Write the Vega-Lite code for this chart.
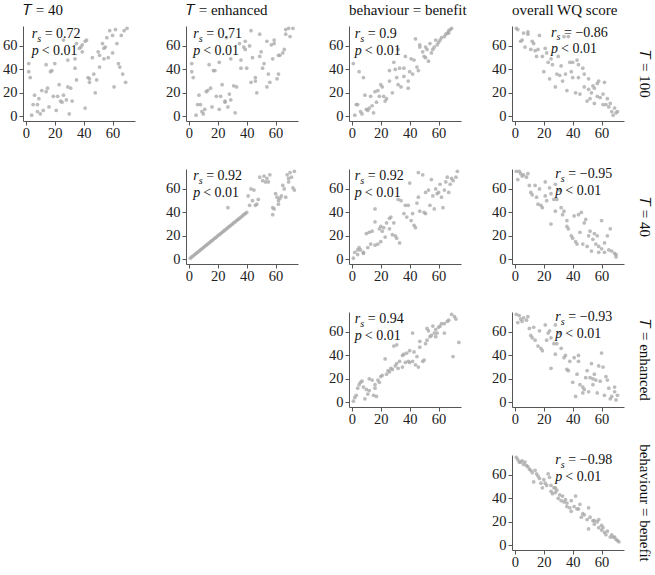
{
"$schema":"https://vega.github.io/schema/vega-lite/v6.json",
"padding":{"left":2,"top":2,"right":5,"bottom":5},
"background":"white",
"columns":4,
"bounds":"flush",
"spacing":{"row":48,"column":51},
"datasets":{
"p1":[{"x":2,"y":45},{"x":2,"y":38},{"x":3,"y":33},{"x":4,"y":1},{"x":5,"y":10},{"x":6,"y":18},{"x":8,"y":10},{"x":8,"y":4},{"x":9,"y":15},{"x":10,"y":2},{"x":11,"y":22},{"x":12,"y":5},{"x":14,"y":21},{"x":14,"y":44},{"x":15,"y":24},{"x":16,"y":8},{"x":17,"y":38},{"x":18,"y":39},{"x":19,"y":17},{"x":20,"y":45},{"x":21,"y":5},{"x":22,"y":17},{"x":23,"y":27},{"x":24,"y":13},{"x":25,"y":12},{"x":26,"y":65},{"x":26,"y":18},{"x":28,"y":14},{"x":29,"y":25},{"x":29,"y":48},{"x":30,"y":2},{"x":31,"y":24},{"x":32,"y":13},{"x":34,"y":49},{"x":34,"y":41},{"x":35,"y":31},{"x":35,"y":62},{"x":37,"y":58},{"x":38,"y":59},{"x":39,"y":55},{"x":39,"y":61},{"x":41,"y":64},{"x":41,"y":7},{"x":42,"y":65},{"x":43,"y":33},{"x":44,"y":32},{"x":44,"y":29},{"x":46,"y":50},{"x":47,"y":36},{"x":48,"y":20},{"x":49,"y":31},{"x":50,"y":55},{"x":51,"y":42},{"x":51,"y":52},{"x":53,"y":62},{"x":54,"y":58},{"x":54,"y":49},{"x":55,"y":59},{"x":56,"y":67},{"x":57,"y":50},{"x":58,"y":73},{"x":60,"y":54},{"x":60,"y":69},{"x":61,"y":25},{"x":62,"y":74},{"x":63,"y":62},{"x":64,"y":45},{"x":65,"y":42},{"x":66,"y":69},{"x":67,"y":36},{"x":68,"y":73},{"x":69,"y":29},{"x":70,"y":75}],
"p2":[{"x":2,"y":45},{"x":2,"y":38},{"x":3,"y":33},{"x":5,"y":1},{"x":6,"y":10},{"x":7,"y":18},{"x":8,"y":10},{"x":9,"y":4},{"x":10,"y":2},{"x":11,"y":6},{"x":12,"y":21},{"x":13,"y":22},{"x":14,"y":44},{"x":15,"y":24},{"x":16,"y":8},{"x":17,"y":39},{"x":18,"y":39},{"x":19,"y":17},{"x":21,"y":46},{"x":21,"y":6},{"x":22,"y":17},{"x":23,"y":27},{"x":25,"y":13},{"x":25,"y":12},{"x":26,"y":67},{"x":27,"y":8},{"x":28,"y":19},{"x":29,"y":49},{"x":29,"y":14},{"x":31,"y":26},{"x":32,"y":3},{"x":33,"y":25},{"x":35,"y":62},{"x":36,"y":48},{"x":36,"y":41},{"x":38,"y":59},{"x":39,"y":57},{"x":39,"y":64},{"x":40,"y":41},{"x":42,"y":60},{"x":43,"y":29},{"x":43,"y":73},{"x":44,"y":50},{"x":46,"y":33},{"x":46,"y":30},{"x":47,"y":20},{"x":49,"y":51},{"x":49,"y":70},{"x":50,"y":55},{"x":51,"y":41},{"x":52,"y":45},{"x":54,"y":64},{"x":54,"y":25},{"x":55,"y":36},{"x":56,"y":29},{"x":57,"y":61},{"x":58,"y":49},{"x":59,"y":65},{"x":59,"y":62},{"x":61,"y":32},{"x":62,"y":52},{"x":62,"y":36},{"x":63,"y":52},{"x":65,"y":54},{"x":66,"y":57},{"x":67,"y":70},{"x":67,"y":74},{"x":69,"y":75},{"x":70,"y":68},{"x":72,"y":75}],
"p3":[{"x":1,"y":45},{"x":2,"y":1},{"x":3,"y":10},{"x":4,"y":10},{"x":5,"y":38},{"x":6,"y":4},{"x":7,"y":2},{"x":8,"y":33},{"x":9,"y":18},{"x":10,"y":6},{"x":11,"y":5},{"x":12,"y":7},{"x":13,"y":17},{"x":14,"y":9},{"x":15,"y":3},{"x":16,"y":21},{"x":17,"y":12},{"x":18,"y":22},{"x":19,"y":17},{"x":20,"y":27},{"x":21,"y":25},{"x":22,"y":17},{"x":23,"y":13},{"x":24,"y":15},{"x":26,"y":39},{"x":26,"y":30},{"x":28,"y":20},{"x":29,"y":46},{"x":30,"y":40},{"x":31,"y":33},{"x":32,"y":57},{"x":32,"y":27},{"x":33,"y":41},{"x":34,"y":25},{"x":36,"y":34},{"x":36,"y":41},{"x":37,"y":51},{"x":39,"y":24},{"x":39,"y":30},{"x":40,"y":38},{"x":41,"y":49},{"x":42,"y":36},{"x":43,"y":48},{"x":44,"y":66},{"x":45,"y":42},{"x":46,"y":39},{"x":47,"y":61},{"x":47,"y":59},{"x":49,"y":55},{"x":50,"y":51},{"x":51,"y":50},{"x":51,"y":59},{"x":52,"y":57},{"x":53,"y":47},{"x":54,"y":62},{"x":55,"y":54},{"x":56,"y":57},{"x":57,"y":59},{"x":58,"y":65},{"x":59,"y":61},{"x":60,"y":63},{"x":61,"y":65},{"x":62,"y":67},{"x":64,"y":68},{"x":65,"y":70},{"x":66,"y":71},{"x":67,"y":73},{"x":68,"y":74},{"x":69,"y":75},{"x":67,"y":71}],
"p4":[{"x":1,"y":75},{"x":2,"y":74},{"x":4,"y":64},{"x":5,"y":65},{"x":6,"y":71},{"x":7,"y":59},{"x":9,"y":72},{"x":9,"y":70},{"x":11,"y":57},{"x":12,"y":64},{"x":13,"y":62},{"x":14,"y":56},{"x":15,"y":51},{"x":16,"y":57},{"x":17,"y":69},{"x":19,"y":51},{"x":20,"y":38},{"x":21,"y":58},{"x":22,"y":54},{"x":23,"y":46},{"x":24,"y":32},{"x":25,"y":49},{"x":26,"y":44},{"x":28,"y":25},{"x":29,"y":36},{"x":30,"y":51},{"x":31,"y":35},{"x":32,"y":43},{"x":33,"y":30},{"x":34,"y":68},{"x":35,"y":36},{"x":36,"y":22},{"x":37,"y":68},{"x":38,"y":46},{"x":39,"y":38},{"x":40,"y":33},{"x":40,"y":46},{"x":42,"y":20},{"x":43,"y":48},{"x":44,"y":44},{"x":44,"y":33},{"x":45,"y":19},{"x":47,"y":41},{"x":48,"y":36},{"x":48,"y":25},{"x":50,"y":13},{"x":51,"y":23},{"x":51,"y":32},{"x":52,"y":15},{"x":53,"y":20},{"x":54,"y":26},{"x":55,"y":11},{"x":55,"y":24},{"x":57,"y":28},{"x":57,"y":17},{"x":58,"y":30},{"x":59,"y":16},{"x":61,"y":10},{"x":61,"y":19},{"x":62,"y":29},{"x":63,"y":10},{"x":64,"y":15},{"x":65,"y":8},{"x":66,"y":11},{"x":67,"y":4},{"x":68,"y":1},{"x":69,"y":7},{"x":70,"y":3},{"x":71,"y":4}],
"p5":[{"x":1,"y":1},{"x":2,"y":2},{"x":3,"y":3},{"x":4,"y":4},{"x":5,"y":5},{"x":6,"y":6},{"x":7,"y":7},{"x":8,"y":8},{"x":9,"y":9},{"x":10,"y":10},{"x":11,"y":11},{"x":12,"y":12},{"x":13,"y":13},{"x":14,"y":14},{"x":15,"y":15},{"x":16,"y":16},{"x":17,"y":17},{"x":18,"y":18},{"x":19,"y":19},{"x":20,"y":20},{"x":21,"y":21},{"x":22,"y":22},{"x":23,"y":23},{"x":24,"y":24},{"x":25,"y":25},{"x":26,"y":26},{"x":27,"y":27},{"x":28,"y":28},{"x":29,"y":29},{"x":30,"y":30},{"x":31,"y":31},{"x":32,"y":32},{"x":33,"y":33},{"x":34,"y":34},{"x":35,"y":35},{"x":36,"y":36},{"x":37,"y":37},{"x":38,"y":38},{"x":39,"y":39},{"x":40,"y":40},{"x":27,"y":44},{"x":41,"y":54},{"x":42,"y":46},{"x":43,"y":60},{"x":44,"y":50},{"x":45,"y":59},{"x":46,"y":46},{"x":47,"y":47},{"x":48,"y":51},{"x":49,"y":70},{"x":51,"y":67},{"x":52,"y":71},{"x":53,"y":66},{"x":54,"y":69},{"x":55,"y":66},{"x":56,"y":72},{"x":58,"y":44},{"x":58,"y":38},{"x":59,"y":43},{"x":60,"y":56},{"x":61,"y":53},{"x":62,"y":50},{"x":62,"y":47},{"x":63,"y":52},{"x":64,"y":54},{"x":65,"y":63},{"x":66,"y":60},{"x":67,"y":53},{"x":68,"y":72},{"x":69,"y":69},{"x":69,"y":66},{"x":70,"y":74},{"x":71,"y":70},{"x":72,"y":61},{"x":73,"y":75},{"x":73,"y":59}],
"p6":[{"x":1,"y":1},{"x":2,"y":6},{"x":4,"y":4},{"x":4,"y":8},{"x":5,"y":10},{"x":6,"y":8},{"x":8,"y":5},{"x":8,"y":6},{"x":10,"y":22},{"x":11,"y":10},{"x":12,"y":23},{"x":13,"y":13},{"x":14,"y":24},{"x":16,"y":32},{"x":16,"y":43},{"x":16,"y":12},{"x":18,"y":13},{"x":19,"y":26},{"x":20,"y":15},{"x":20,"y":28},{"x":21,"y":24},{"x":22,"y":27},{"x":23,"y":19},{"x":24,"y":31},{"x":26,"y":35},{"x":26,"y":26},{"x":27,"y":36},{"x":28,"y":21},{"x":29,"y":31},{"x":30,"y":20},{"x":31,"y":18},{"x":32,"y":51},{"x":33,"y":14},{"x":34,"y":50},{"x":36,"y":39},{"x":37,"y":46},{"x":38,"y":36},{"x":39,"y":46},{"x":40,"y":65},{"x":41,"y":33},{"x":42,"y":39},{"x":43,"y":29},{"x":44,"y":27},{"x":45,"y":48},{"x":46,"y":74},{"x":46,"y":53},{"x":47,"y":41},{"x":49,"y":72},{"x":50,"y":40},{"x":51,"y":57},{"x":51,"y":39},{"x":53,"y":59},{"x":54,"y":46},{"x":55,"y":68},{"x":56,"y":54},{"x":57,"y":43},{"x":58,"y":60},{"x":59,"y":56},{"x":60,"y":57},{"x":61,"y":64},{"x":62,"y":53},{"x":63,"y":44},{"x":64,"y":59},{"x":65,"y":66},{"x":66,"y":70},{"x":67,"y":57},{"x":68,"y":64},{"x":69,"y":69},{"x":70,"y":67},{"x":72,"y":70},{"x":73,"y":75}],
"p7":[{"x":1,"y":75},{"x":2,"y":68},{"x":3,"y":75},{"x":4,"y":73},{"x":5,"y":71},{"x":6,"y":72},{"x":8,"y":70},{"x":9,"y":73},{"x":10,"y":63},{"x":11,"y":57},{"x":12,"y":55},{"x":14,"y":63},{"x":15,"y":53},{"x":16,"y":47},{"x":17,"y":60},{"x":18,"y":46},{"x":19,"y":44},{"x":21,"y":66},{"x":21,"y":54},{"x":22,"y":50},{"x":24,"y":61},{"x":25,"y":30},{"x":25,"y":56},{"x":27,"y":51},{"x":28,"y":41},{"x":28,"y":64},{"x":29,"y":51},{"x":31,"y":59},{"x":32,"y":44},{"x":33,"y":38},{"x":34,"y":41},{"x":36,"y":33},{"x":36,"y":28},{"x":37,"y":26},{"x":39,"y":20},{"x":40,"y":18},{"x":41,"y":37},{"x":42,"y":15},{"x":43,"y":13},{"x":44,"y":38},{"x":45,"y":23},{"x":46,"y":40},{"x":47,"y":13},{"x":48,"y":31},{"x":49,"y":34},{"x":50,"y":11},{"x":51,"y":20},{"x":52,"y":24},{"x":53,"y":7},{"x":54,"y":17},{"x":55,"y":22},{"x":56,"y":13},{"x":57,"y":20},{"x":58,"y":6},{"x":58,"y":11},{"x":60,"y":33},{"x":60,"y":9},{"x":62,"y":6},{"x":62,"y":14},{"x":64,"y":20},{"x":65,"y":8},{"x":66,"y":26},{"x":67,"y":7},{"x":69,"y":5},{"x":70,"y":4},{"x":70,"y":2}],
"p8":[{"x":1,"y":1},{"x":2,"y":4},{"x":3,"y":6},{"x":4,"y":12},{"x":5,"y":15},{"x":6,"y":17},{"x":7,"y":18},{"x":8,"y":13},{"x":9,"y":3},{"x":10,"y":11},{"x":11,"y":7},{"x":12,"y":20},{"x":12,"y":10},{"x":14,"y":19},{"x":15,"y":6},{"x":16,"y":15},{"x":16,"y":12},{"x":17,"y":5},{"x":18,"y":19},{"x":19,"y":17},{"x":20,"y":22},{"x":21,"y":23},{"x":23,"y":37},{"x":24,"y":24},{"x":25,"y":27},{"x":26,"y":26},{"x":27,"y":29},{"x":28,"y":28},{"x":29,"y":48},{"x":30,"y":31},{"x":31,"y":49},{"x":31,"y":33},{"x":32,"y":29},{"x":33,"y":35},{"x":35,"y":30},{"x":35,"y":40},{"x":36,"y":41},{"x":37,"y":34},{"x":38,"y":42},{"x":39,"y":35},{"x":40,"y":44},{"x":40,"y":34},{"x":42,"y":35},{"x":42,"y":59},{"x":43,"y":43},{"x":44,"y":32},{"x":45,"y":39},{"x":46,"y":30},{"x":47,"y":47},{"x":47,"y":52},{"x":49,"y":35},{"x":50,"y":36},{"x":51,"y":50},{"x":52,"y":53},{"x":52,"y":63},{"x":53,"y":61},{"x":54,"y":56},{"x":55,"y":57},{"x":56,"y":65},{"x":57,"y":59},{"x":58,"y":56},{"x":58,"y":62},{"x":59,"y":59},{"x":60,"y":64},{"x":61,"y":65},{"x":62,"y":67},{"x":64,"y":67},{"x":64,"y":59},{"x":66,"y":69},{"x":67,"y":70},{"x":69,"y":75},{"x":70,"y":39},{"x":71,"y":73},{"x":72,"y":71},{"x":74,"y":51}],
"p9":[{"x":1,"y":75},{"x":2,"y":68},{"x":3,"y":74},{"x":4,"y":71},{"x":5,"y":69},{"x":6,"y":72},{"x":8,"y":70},{"x":9,"y":73},{"x":10,"y":63},{"x":11,"y":57},{"x":12,"y":55},{"x":13,"y":64},{"x":14,"y":53},{"x":16,"y":48},{"x":17,"y":61},{"x":18,"y":46},{"x":19,"y":44},{"x":21,"y":66},{"x":22,"y":53},{"x":23,"y":59},{"x":24,"y":61},{"x":25,"y":29},{"x":25,"y":55},{"x":27,"y":50},{"x":28,"y":41},{"x":28,"y":66},{"x":29,"y":50},{"x":31,"y":59},{"x":32,"y":46},{"x":34,"y":38},{"x":35,"y":40},{"x":36,"y":28},{"x":37,"y":27},{"x":38,"y":35},{"x":40,"y":17},{"x":41,"y":38},{"x":42,"y":5},{"x":43,"y":24},{"x":44,"y":35},{"x":44,"y":40},{"x":45,"y":15},{"x":47,"y":8},{"x":47,"y":13},{"x":48,"y":11},{"x":49,"y":21},{"x":50,"y":27},{"x":51,"y":9},{"x":52,"y":21},{"x":53,"y":33},{"x":54,"y":15},{"x":54,"y":20},{"x":55,"y":24},{"x":56,"y":19},{"x":57,"y":8},{"x":58,"y":31},{"x":59,"y":18},{"x":60,"y":42},{"x":61,"y":30},{"x":62,"y":6},{"x":63,"y":22},{"x":64,"y":19},{"x":65,"y":12},{"x":66,"y":3},{"x":67,"y":5},{"x":69,"y":9},{"x":69,"y":13},{"x":70,"y":2},{"x":71,"y":6}],
"p10":[{"x":1,"y":75},{"x":2,"y":73},{"x":3,"y":71},{"x":4,"y":71},{"x":5,"y":72},{"x":6,"y":69},{"x":7,"y":71},{"x":8,"y":68},{"x":9,"y":67},{"x":10,"y":65},{"x":11,"y":64},{"x":12,"y":62},{"x":13,"y":54},{"x":14,"y":64},{"x":15,"y":61},{"x":16,"y":59},{"x":17,"y":57},{"x":18,"y":53},{"x":19,"y":49},{"x":20,"y":56},{"x":21,"y":53},{"x":22,"y":51},{"x":23,"y":61},{"x":24,"y":58},{"x":25,"y":51},{"x":25,"y":46},{"x":26,"y":44},{"x":27,"y":49},{"x":28,"y":45},{"x":28,"y":49},{"x":29,"y":47},{"x":30,"y":40},{"x":31,"y":43},{"x":32,"y":38},{"x":33,"y":42},{"x":34,"y":37},{"x":35,"y":39},{"x":36,"y":33},{"x":36,"y":36},{"x":38,"y":32},{"x":39,"y":38},{"x":39,"y":29},{"x":41,"y":33},{"x":42,"y":42},{"x":43,"y":31},{"x":44,"y":31},{"x":45,"y":35},{"x":46,"y":24},{"x":47,"y":27},{"x":48,"y":26},{"x":50,"y":22},{"x":51,"y":32},{"x":51,"y":14},{"x":52,"y":24},{"x":54,"y":21},{"x":55,"y":18},{"x":55,"y":21},{"x":57,"y":20},{"x":58,"y":15},{"x":58,"y":22},{"x":60,"y":17},{"x":60,"y":13},{"x":61,"y":15},{"x":62,"y":11},{"x":63,"y":9},{"x":64,"y":12},{"x":66,"y":7},{"x":67,"y":9},{"x":68,"y":7},{"x":69,"y":7},{"x":70,"y":5},{"x":71,"y":4},{"x":72,"y":3}]
},
"concat":[
{"width":112,"height":95,"title":"𝑇 = 40","data":{"name":"p1"},"layer":[
 {"mark":{"type":"circle","size":14,"color":"#a6a6a6","opacity":0.75},"encoding":{"x":{"field":"x","type":"quantitative","scale":{"domain":[-2,75.5],"nice":false},"axis":{"values":[0,20,40,60],"title":null}},"y":{"field":"y","type":"quantitative","scale":{"domain":[-4,77],"nice":false},"axis":{"values":[0,20,40,60],"title":null}}}},
 {"data":{"values":[{"a":"r\np","b":"s","c":"= 0.72","d":"< 0.01"}]},"encoding":{"x":{"datum":4,"type":"quantitative","axis":{"values":[0,20,40,60],"title":null}},"y":{"datum":66.5,"type":"quantitative","axis":{"values":[0,20,40,60],"title":null}}},"layer":[
  {"mark":{"type":"text","lineBreak":"\n","lineHeight":16.7,"fontStyle":"italic"},"encoding":{"text":{"field":"a"}}},
  {"mark":{"type":"text","fontSize":10,"fontStyle":"italic","dx":5.5,"dy":3.5},"encoding":{"text":{"field":"b"}}},
  {"mark":{"type":"text","dx":13},"encoding":{"text":{"field":"c"}}},
  {"mark":{"type":"text","dx":10,"dy":16.7},"encoding":{"text":{"field":"d"}}}
 ]}
]},
{"width":112,"height":95,"title":"𝑇 = enhanced","data":{"name":"p2"},"layer":[
 {"mark":{"type":"circle","size":14,"color":"#a6a6a6","opacity":0.75},"encoding":{"x":{"field":"x","type":"quantitative","scale":{"domain":[-2,75.5],"nice":false},"axis":{"values":[0,20,40,60],"title":null}},"y":{"field":"y","type":"quantitative","scale":{"domain":[-4,77],"nice":false},"axis":{"values":[0,20,40,60],"title":null}}}},
 {"data":{"values":[{"a":"r\np","b":"s","c":"= 0.71","d":"< 0.01"}]},"encoding":{"x":{"datum":3,"type":"quantitative","axis":{"values":[0,20,40,60],"title":null}},"y":{"datum":66.5,"type":"quantitative","axis":{"values":[0,20,40,60],"title":null}}},"layer":[
  {"mark":{"type":"text","lineBreak":"\n","lineHeight":16.7,"fontStyle":"italic"},"encoding":{"text":{"field":"a"}}},
  {"mark":{"type":"text","fontSize":10,"fontStyle":"italic","dx":5.5,"dy":3.5},"encoding":{"text":{"field":"b"}}},
  {"mark":{"type":"text","dx":13},"encoding":{"text":{"field":"c"}}},
  {"mark":{"type":"text","dx":10,"dy":16.7},"encoding":{"text":{"field":"d"}}}
 ]}
]},
{"width":112,"height":95,"title":"behaviour = benefit","data":{"name":"p3"},"layer":[
 {"mark":{"type":"circle","size":14,"color":"#a6a6a6","opacity":0.75},"encoding":{"x":{"field":"x","type":"quantitative","scale":{"domain":[-2,75.5],"nice":false},"axis":{"values":[0,20,40,60],"title":null}},"y":{"field":"y","type":"quantitative","scale":{"domain":[-4,77],"nice":false},"axis":{"values":[0,20,40,60],"title":null}}}},
 {"data":{"values":[{"a":"r\np","b":"s","c":"= 0.9","d":"< 0.01"}]},"encoding":{"x":{"datum":2,"type":"quantitative","axis":{"values":[0,20,40,60],"title":null}},"y":{"datum":66.5,"type":"quantitative","axis":{"values":[0,20,40,60],"title":null}}},"layer":[
  {"mark":{"type":"text","lineBreak":"\n","lineHeight":16.7,"fontStyle":"italic"},"encoding":{"text":{"field":"a"}}},
  {"mark":{"type":"text","fontSize":10,"fontStyle":"italic","dx":5.5,"dy":3.5},"encoding":{"text":{"field":"b"}}},
  {"mark":{"type":"text","dx":13},"encoding":{"text":{"field":"c"}}},
  {"mark":{"type":"text","dx":10,"dy":16.7},"encoding":{"text":{"field":"d"}}}
 ]}
]},
{"width":112,"height":95,"title":"overall WQ score","data":{"name":"p4"},"resolve":{"axis":{"y":"independent"}},"layer":[
 {"mark":{"type":"circle","size":14,"color":"#a6a6a6","opacity":0.75},"encoding":{"x":{"field":"x","type":"quantitative","scale":{"domain":[-2,75.5],"nice":false},"axis":{"values":[0,20,40,60],"title":null}},"y":{"field":"y","type":"quantitative","scale":{"domain":[-4,77],"nice":false},"axis":{"values":[0,20,40,60],"title":null}}}},
 {"data":{"values":[{"a":"r\np","b":"s","c":"= −0.86","d":"< 0.01"}]},"encoding":{"x":{"datum":25,"type":"quantitative","axis":{"values":[0,20,40,60],"title":null}},"y":{"datum":68,"type":"quantitative","axis":{"orient":"right","labels":false,"ticks":false,"domain":false,"grid":false,"title":"𝑇 = 100","titleFont":"Liberation Serif","titleFontSize":15,"titleFontWeight":"normal","titleColor":"#111","titleAngle":90,"titlePadding":12}}},"layer":[
  {"mark":{"type":"text","lineBreak":"\n","lineHeight":16.7,"fontStyle":"italic"},"encoding":{"text":{"field":"a"}}},
  {"mark":{"type":"text","fontSize":10,"fontStyle":"italic","dx":5.5,"dy":3.5},"encoding":{"text":{"field":"b"}}},
  {"mark":{"type":"text","dx":13},"encoding":{"text":{"field":"c"}}},
  {"mark":{"type":"text","dx":10,"dy":16.7},"encoding":{"text":{"field":"d"}}}
 ]}
]},
{"width":112,"height":95,"data":{"values":[]},"mark":{"type":"point","opacity":0}},
{"width":112,"height":95,"data":{"name":"p5"},"layer":[
 {"mark":{"type":"circle","size":14,"color":"#a6a6a6","opacity":0.75},"encoding":{"x":{"field":"x","type":"quantitative","scale":{"domain":[-2,75.5],"nice":false},"axis":{"values":[0,20,40,60],"title":null}},"y":{"field":"y","type":"quantitative","scale":{"domain":[-4,77],"nice":false},"axis":{"values":[0,20,40,60],"title":null}}}},
 {"data":{"values":[{"a":"r\np","b":"s","c":"= 0.92","d":"< 0.01"}]},"encoding":{"x":{"datum":3,"type":"quantitative","axis":{"values":[0,20,40,60],"title":null}},"y":{"datum":67.5,"type":"quantitative","axis":{"values":[0,20,40,60],"title":null}}},"layer":[
  {"mark":{"type":"text","lineBreak":"\n","lineHeight":16.7,"fontStyle":"italic"},"encoding":{"text":{"field":"a"}}},
  {"mark":{"type":"text","fontSize":10,"fontStyle":"italic","dx":5.5,"dy":3.5},"encoding":{"text":{"field":"b"}}},
  {"mark":{"type":"text","dx":13},"encoding":{"text":{"field":"c"}}},
  {"mark":{"type":"text","dx":10,"dy":16.7},"encoding":{"text":{"field":"d"}}}
 ]}
]},
{"width":112,"height":95,"data":{"name":"p6"},"layer":[
 {"mark":{"type":"circle","size":14,"color":"#a6a6a6","opacity":0.75},"encoding":{"x":{"field":"x","type":"quantitative","scale":{"domain":[-2,75.5],"nice":false},"axis":{"values":[0,20,40,60],"title":null}},"y":{"field":"y","type":"quantitative","scale":{"domain":[-4,77],"nice":false},"axis":{"values":[0,20,40,60],"title":null}}}},
 {"data":{"values":[{"a":"r\np","b":"s","c":"= 0.92","d":"< 0.01"}]},"encoding":{"x":{"datum":2,"type":"quantitative","axis":{"values":[0,20,40,60],"title":null}},"y":{"datum":67.5,"type":"quantitative","axis":{"values":[0,20,40,60],"title":null}}},"layer":[
  {"mark":{"type":"text","lineBreak":"\n","lineHeight":16.7,"fontStyle":"italic"},"encoding":{"text":{"field":"a"}}},
  {"mark":{"type":"text","fontSize":10,"fontStyle":"italic","dx":5.5,"dy":3.5},"encoding":{"text":{"field":"b"}}},
  {"mark":{"type":"text","dx":13},"encoding":{"text":{"field":"c"}}},
  {"mark":{"type":"text","dx":10,"dy":16.7},"encoding":{"text":{"field":"d"}}}
 ]}
]},
{"width":112,"height":95,"data":{"name":"p7"},"resolve":{"axis":{"y":"independent"}},"layer":[
 {"mark":{"type":"circle","size":14,"color":"#a6a6a6","opacity":0.75},"encoding":{"x":{"field":"x","type":"quantitative","scale":{"domain":[-2,75.5],"nice":false},"axis":{"values":[0,20,40,60],"title":null}},"y":{"field":"y","type":"quantitative","scale":{"domain":[-4,77],"nice":false},"axis":{"values":[0,20,40,60],"title":null}}}},
 {"data":{"values":[{"a":"r\np","b":"s","c":"= −0.95","d":"< 0.01"}]},"encoding":{"x":{"datum":28,"type":"quantitative","axis":{"values":[0,20,40,60],"title":null}},"y":{"datum":69,"type":"quantitative","axis":{"orient":"right","labels":false,"ticks":false,"domain":false,"grid":false,"title":"𝑇 = 40","titleFont":"Liberation Serif","titleFontSize":15,"titleFontWeight":"normal","titleColor":"#111","titleAngle":90,"titlePadding":12}}},"layer":[
  {"mark":{"type":"text","lineBreak":"\n","lineHeight":16.7,"fontStyle":"italic"},"encoding":{"text":{"field":"a"}}},
  {"mark":{"type":"text","fontSize":10,"fontStyle":"italic","dx":5.5,"dy":3.5},"encoding":{"text":{"field":"b"}}},
  {"mark":{"type":"text","dx":13},"encoding":{"text":{"field":"c"}}},
  {"mark":{"type":"text","dx":10,"dy":16.7},"encoding":{"text":{"field":"d"}}}
 ]}
]},
{"width":112,"height":95,"data":{"values":[]},"mark":{"type":"point","opacity":0}},
{"width":112,"height":95,"data":{"values":[]},"mark":{"type":"point","opacity":0}},
{"width":112,"height":95,"data":{"name":"p8"},"layer":[
 {"mark":{"type":"circle","size":14,"color":"#a6a6a6","opacity":0.75},"encoding":{"x":{"field":"x","type":"quantitative","scale":{"domain":[-2,75.5],"nice":false},"axis":{"values":[0,20,40,60],"title":null}},"y":{"field":"y","type":"quantitative","scale":{"domain":[-4,77],"nice":false},"axis":{"values":[0,20,40,60],"title":null}}}},
 {"data":{"values":[{"a":"r\np","b":"s","c":"= 0.94","d":"< 0.01"}]},"encoding":{"x":{"datum":2,"type":"quantitative","axis":{"values":[0,20,40,60],"title":null}},"y":{"datum":67.5,"type":"quantitative","axis":{"values":[0,20,40,60],"title":null}}},"layer":[
  {"mark":{"type":"text","lineBreak":"\n","lineHeight":16.7,"fontStyle":"italic"},"encoding":{"text":{"field":"a"}}},
  {"mark":{"type":"text","fontSize":10,"fontStyle":"italic","dx":5.5,"dy":3.5},"encoding":{"text":{"field":"b"}}},
  {"mark":{"type":"text","dx":13},"encoding":{"text":{"field":"c"}}},
  {"mark":{"type":"text","dx":10,"dy":16.7},"encoding":{"text":{"field":"d"}}}
 ]}
]},
{"width":112,"height":95,"data":{"name":"p9"},"resolve":{"axis":{"y":"independent"}},"layer":[
 {"mark":{"type":"circle","size":14,"color":"#a6a6a6","opacity":0.75},"encoding":{"x":{"field":"x","type":"quantitative","scale":{"domain":[-2,75.5],"nice":false},"axis":{"values":[0,20,40,60],"title":null}},"y":{"field":"y","type":"quantitative","scale":{"domain":[-4,77],"nice":false},"axis":{"values":[0,20,40,60],"title":null}}}},
 {"data":{"values":[{"a":"r\np","b":"s","c":"= −0.93","d":"< 0.01"}]},"encoding":{"x":{"datum":28,"type":"quantitative","axis":{"values":[0,20,40,60],"title":null}},"y":{"datum":69,"type":"quantitative","axis":{"orient":"right","labels":false,"ticks":false,"domain":false,"grid":false,"title":"𝑇 = enhanced","titleFont":"Liberation Serif","titleFontSize":15,"titleFontWeight":"normal","titleColor":"#111","titleAngle":90,"titlePadding":12}}},"layer":[
  {"mark":{"type":"text","lineBreak":"\n","lineHeight":16.7,"fontStyle":"italic"},"encoding":{"text":{"field":"a"}}},
  {"mark":{"type":"text","fontSize":10,"fontStyle":"italic","dx":5.5,"dy":3.5},"encoding":{"text":{"field":"b"}}},
  {"mark":{"type":"text","dx":13},"encoding":{"text":{"field":"c"}}},
  {"mark":{"type":"text","dx":10,"dy":16.7},"encoding":{"text":{"field":"d"}}}
 ]}
]},
{"width":112,"height":95,"data":{"values":[]},"mark":{"type":"point","opacity":0}},
{"width":112,"height":95,"data":{"values":[]},"mark":{"type":"point","opacity":0}},
{"width":112,"height":95,"data":{"values":[]},"mark":{"type":"point","opacity":0}},
{"width":112,"height":95,"data":{"name":"p10"},"resolve":{"axis":{"y":"independent"}},"layer":[
 {"mark":{"type":"circle","size":14,"color":"#a6a6a6","opacity":0.75},"encoding":{"x":{"field":"x","type":"quantitative","scale":{"domain":[-2,75.5],"nice":false},"axis":{"values":[0,20,40,60],"title":null}},"y":{"field":"y","type":"quantitative","scale":{"domain":[-4,77],"nice":false},"axis":{"values":[0,20,40,60],"title":null}}}},
 {"data":{"values":[{"a":"r\np","b":"s","c":"= −0.98","d":"< 0.01"}]},"encoding":{"x":{"datum":28,"type":"quantitative","axis":{"values":[0,20,40,60],"title":null}},"y":{"datum":69,"type":"quantitative","axis":{"orient":"right","labels":false,"ticks":false,"domain":false,"grid":false,"title":"behaviour = benefit","titleFont":"Liberation Serif","titleFontSize":15,"titleFontWeight":"normal","titleColor":"#111","titleAngle":90,"titlePadding":12}}},"layer":[
  {"mark":{"type":"text","lineBreak":"\n","lineHeight":16.7,"fontStyle":"italic"},"encoding":{"text":{"field":"a"}}},
  {"mark":{"type":"text","fontSize":10,"fontStyle":"italic","dx":5.5,"dy":3.5},"encoding":{"text":{"field":"b"}}},
  {"mark":{"type":"text","dx":13},"encoding":{"text":{"field":"c"}}},
  {"mark":{"type":"text","dx":10,"dy":16.7},"encoding":{"text":{"field":"d"}}}
 ]}
]}
],
"config":{
 "font":"Liberation Serif",
 "view":{"stroke":null},
 "text":{"font":"Liberation Serif","align":"left","baseline":"alphabetic","color":"#111","fontSize":14},
 "axis":{"grid":false,"domainColor":"#555","tickColor":"#555","tickSize":4,"labelFont":"Liberation Serif","labelFontSize":14.5,"labelColor":"#222","labelPadding":1},
 "axisY":{"labelPadding":2},
 "title":{"font":"Liberation Serif","fontSize":15,"fontWeight":"normal","anchor":"start","frame":"group","color":"#111","offset":8}
}
}
